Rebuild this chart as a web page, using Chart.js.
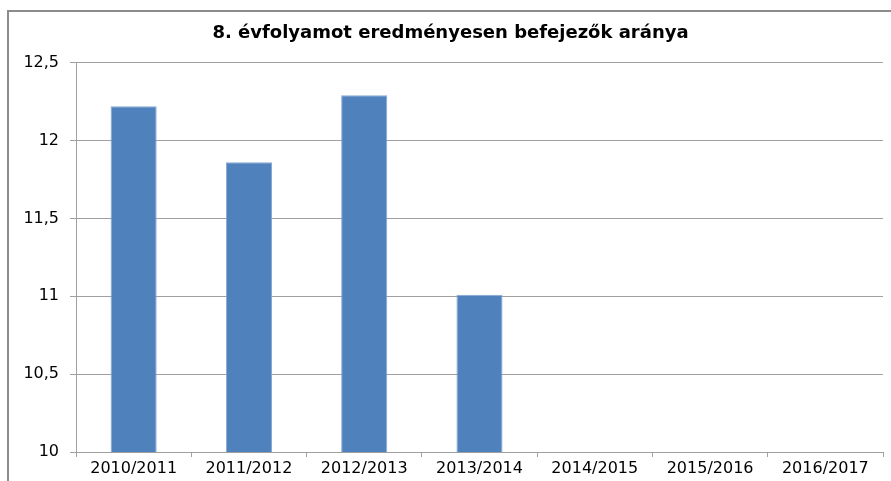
<!DOCTYPE html>
<html>
<head>
<meta charset="utf-8">
<script src="https://cdn.jsdelivr.net/npm/chart.js@4"></script>
<style>
  body { margin: 0; background: #fff; }
  #wrap { position: relative; width: 891px; height: 481px; overflow: hidden; }
  #frame { position: absolute; left: 7px; top: 10px; width: 1000px; height: 600px; border: 2px solid #8c8c8c; }
  canvas { position: absolute; left: 0; top: 0; }
</style>
</head>
<body>
<div id="wrap">
  <div id="frame"></div>
  <canvas id="chart" width="891" height="481"></canvas>
</div>
<script>
// tanévek és értékek
const labels = ["2010/2011", "2011/2012", "2012/2013", "2013/2014", "2014/2015", "2015/2016", "2016/2017"];
const values = [12.22, 11.86, 12.29, 11.01, null, null, null];
const yTicks = [10, 10.5, 11, 11.5, 12, 12.5];

const gridGray = "#a0a0a0";
const font = "'DejaVu Sans', sans-serif";

let ctx = document.getElementById("chart").getContext("2d");
let chart = new Chart(ctx, {
    type: "bar",
    data: {
        labels: labels,
        datasets: [
            {
                data: values,
                backgroundColor: "#4f81bd",
                borderColor: "#86a8d4",
                borderWidth: 1,
                barPercentage: 0.4,
                categoryPercentage: 1,
            },
        ],
    },
    options: {
        responsive: false,
        animation: false,
        // left padding nudges the title centre right, y axis still ends at x=76
        layout: { padding: { left: 18, right: 8, top: 0, bottom: 0 } },
        plugins: {
            legend: { display: false },
            tooltip: { enabled: false },
            title: {
                display: true,
                text: "8. évfolyamot eredményesen befejezők aránya",
                color: "#000",
                font: { family: font, size: 18, weight: "bold" },
                padding: { top: 23, bottom: 18 },
            },
        },
        scales: {
            x: {
                grid: {
                    offset: true,
                    drawOnChartArea: false,
                    drawTicks: true,
                    tickLength: 5,
                    color: gridGray,
                },
                border: { display: true, color: gridGray },
                ticks: {
                    color: "#000",
                    font: { family: font, size: 16 },
                    padding: 2,
                    maxRotation: 0,
                },
                afterFit: (scale) => { scale.height = 29; },
            },
            y: {
                min: 10,
                max: 12.5,
                afterBuildTicks: (scale) => {
                    scale.ticks = yTicks.map(v => ({ value: v }));
                },
                grid: {
                    color: gridGray,
                    drawTicks: true,
                    tickLength: 6,
                },
                border: { display: true, color: gridGray },
                ticks: {
                    color: "#000",
                    font: { family: font, size: 16 },
                    padding: 11,
                    callback: (v) => String(v).replace(".", ","),
                },
                afterFit: (scale) => { scale.width = 58; },
            },
        },
    },
});
</script>
</body>
</html>
